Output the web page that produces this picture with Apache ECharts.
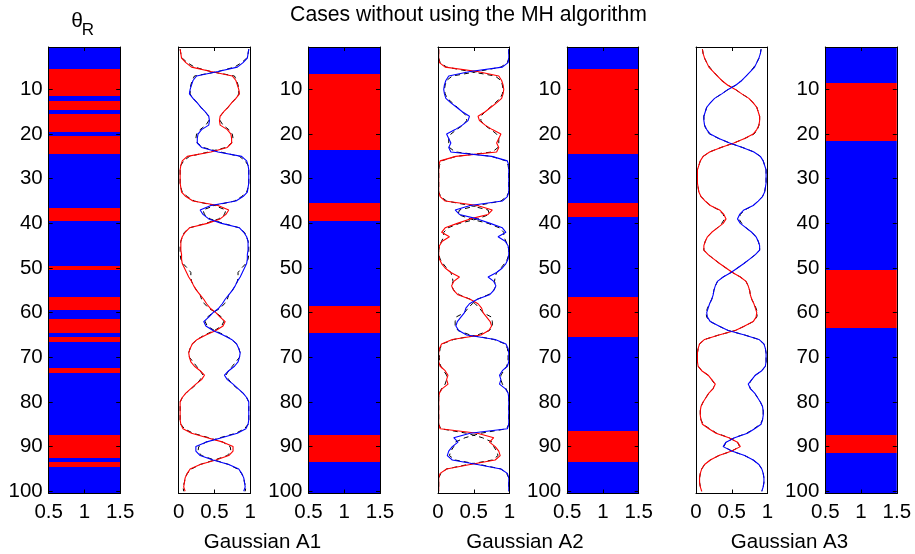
<!DOCTYPE html>
<html><head><meta charset="utf-8">
<script src="https://cdn.jsdelivr.net/npm/echarts@6/dist/echarts.min.js"></script>
<style>html,body{margin:0;padding:0;background:#fff}#c{width:915px;height:554px}</style>
</head><body><div id="c"></div>
<script>
// ---------- data ----------
const rowTicks = [10,20,30,40,50,60,70,80,90,100];
const xTicksImg = [0.5, 1, 1.5];
const xTicksLine = [0, 0.5, 1];
// image columns: runs [firstRow, lastRow, class] ; class 1 = red, 0 = blue
const imgThetaR = [[1,5,0],[6,11,1],[12,12,0],[13,14,1],[15,15,0],[16,19,1],[20,20,0],[21,24,1],[25,36,0],[37,39,1],[40,49,0],[50,50,1],[51,56,0],[57,59,1],[60,61,0],[62,64,1],[65,65,0],[66,66,1],[67,72,0],[73,73,1],[74,87,0],[88,92,1],[93,93,0],[94,94,1],[95,100,0]];
const imgA1 = [[1,6,0],[7,23,1],[24,35,0],[36,39,1],[40,58,0],[59,64,1],[65,87,0],[88,93,1],[94,100,0]];
const imgA2 = [[1,5,0],[6,24,1],[25,35,0],[36,38,1],[39,56,0],[57,65,1],[66,86,0],[87,93,1],[94,100,0]];
const imgA3 = [[1,8,0],[9,21,1],[22,50,0],[51,63,1],[64,87,0],[88,91,1],[92,100,0]];

// line panels: one value per row 1..100
const redA1 = [0.02,0.03,0.04,0.10,0.18,0.45,0.75,0.80,0.82,0.84, 0.85,0.80,0.74,0.69,0.63,0.58,0.57,0.58,0.68,0.73, 0.74,0.74,0.68,0.45,0.12,0.05,0.03,0.02,0.02,0.02, 0.02,0.03,0.04,0.10,0.20,0.55,0.70,0.66,0.58,0.40, 0.15,0.09,0.05,0.03,0.03,0.03,0.04,0.04,0.05,0.08, 0.11,0.14,0.18,0.21,0.25,0.30,0.35,0.39,0.44,0.52, 0.58,0.65,0.62,0.52,0.38,0.26,0.19,0.16,0.14,0.15, 0.17,0.22,0.30,0.36,0.32,0.24,0.17,0.10,0.05,0.02, 0.02,0.02,0.02,0.02,0.03,0.06,0.18,0.40,0.62,0.76, 0.76,0.70,0.52,0.30,0.16,0.12,0.09,0.08,0.07,0.09];
const blueA1 = [0.98,0.97,0.96,0.90,0.82,0.55,0.25,0.20,0.18,0.16, 0.15,0.20,0.26,0.31,0.37,0.42,0.43,0.42,0.32,0.27, 0.26,0.26,0.32,0.55,0.88,0.95,0.97,0.98,0.98,0.98, 0.98,0.97,0.96,0.90,0.80,0.45,0.30,0.34,0.42,0.60, 0.85,0.91,0.95,0.97,0.97,0.97,0.96,0.96,0.95,0.92, 0.89,0.86,0.82,0.79,0.75,0.70,0.65,0.61,0.56,0.48, 0.42,0.35,0.38,0.48,0.62,0.74,0.81,0.84,0.86,0.85, 0.83,0.78,0.70,0.64,0.68,0.76,0.83,0.90,0.95,0.98, 0.98,0.98,0.98,0.98,0.97,0.94,0.82,0.60,0.38,0.24, 0.24,0.30,0.48,0.70,0.84,0.88,0.91,0.92,0.93,0.91];
const blackA1r = [0.02,0.03,0.05,0.12,0.22,0.45,0.78,0.81,0.83,0.84, 0.84,0.80,0.74,0.69,0.63,0.58,0.58,0.62,0.70,0.75, 0.76,0.74,0.66,0.42,0.15,0.07,0.03,0.02,0.02,0.02, 0.02,0.03,0.05,0.12,0.22,0.50,0.66,0.64,0.56,0.38, 0.15,0.08,0.05,0.03,0.02,0.02,0.02,0.03,0.06,0.12, 0.17,0.17,0.18,0.21,0.25,0.30,0.32,0.36,0.42,0.52, 0.60,0.63,0.60,0.50,0.36,0.26,0.19,0.16,0.14,0.15, 0.20,0.25,0.30,0.34,0.30,0.25,0.18,0.10,0.05,0.02, 0.02,0.02,0.02,0.02,0.03,0.08,0.20,0.42,0.62,0.72, 0.73,0.68,0.50,0.30,0.18,0.12,0.09,0.08,0.06,0.07];
const blackA1b = [0.98,0.97,0.95,0.88,0.78,0.55,0.22,0.19,0.17,0.16, 0.16,0.20,0.26,0.31,0.37,0.42,0.42,0.38,0.30,0.25, 0.24,0.26,0.34,0.58,0.85,0.93,0.97,0.98,0.98,0.98, 0.98,0.97,0.95,0.88,0.78,0.50,0.34,0.36,0.44,0.62, 0.85,0.92,0.95,0.97,0.98,0.98,0.98,0.97,0.94,0.88, 0.83,0.83,0.82,0.79,0.75,0.70,0.68,0.64,0.58,0.48, 0.40,0.37,0.40,0.50,0.64,0.74,0.81,0.84,0.86,0.85, 0.80,0.75,0.70,0.66,0.70,0.75,0.82,0.90,0.95,0.98, 0.98,0.98,0.98,0.98,0.97,0.92,0.80,0.58,0.38,0.28, 0.27,0.32,0.50,0.70,0.82,0.88,0.91,0.92,0.94,0.93];

const redA2 = [0.01,0.01,0.01,0.02,0.10,0.55,0.85,0.89,0.91,0.92, 0.91,0.89,0.82,0.74,0.66,0.56,0.58,0.66,0.76,0.88, 0.85,0.82,0.85,0.82,0.25,0.03,0.01,0.01,0.01,0.01, 0.01,0.01,0.01,0.03,0.10,0.55,0.76,0.70,0.45,0.27, 0.10,0.05,0.16,0.06,0.02,0.01,0.01,0.02,0.05,0.10, 0.18,0.30,0.22,0.19,0.22,0.28,0.45,0.56,0.61,0.63, 0.68,0.73,0.75,0.71,0.60,0.20,0.05,0.02,0.01,0.01, 0.01,0.03,0.10,0.14,0.12,0.14,0.06,0.02,0.01,0.01, 0.01,0.01,0.01,0.01,0.01,0.03,0.55,0.78,0.72,0.80, 0.85,0.87,0.80,0.45,0.12,0.03,0.01,0.01,0.01,0.01];
const blueA2 = [0.99,0.99,0.99,0.98,0.90,0.45,0.15,0.11,0.09,0.08, 0.09,0.11,0.18,0.26,0.34,0.44,0.42,0.34,0.24,0.12, 0.15,0.18,0.15,0.18,0.75,0.97,0.99,0.99,0.99,0.99, 0.99,0.99,0.99,0.97,0.90,0.45,0.24,0.30,0.55,0.73, 0.90,0.95,0.84,0.94,0.98,0.99,0.99,0.98,0.95,0.90, 0.82,0.70,0.78,0.81,0.78,0.72,0.55,0.44,0.39,0.37, 0.32,0.27,0.25,0.29,0.40,0.80,0.95,0.98,0.99,0.99, 0.99,0.97,0.90,0.86,0.88,0.86,0.94,0.98,0.99,0.99, 0.99,0.99,0.99,0.99,0.99,0.97,0.45,0.22,0.28,0.20, 0.15,0.13,0.20,0.55,0.88,0.97,0.99,0.99,0.99,0.99];
const blackA2r = [0.01,0.01,0.01,0.03,0.12,0.45,0.80,0.88,0.90,0.91, 0.90,0.87,0.80,0.73,0.66,0.60,0.60,0.65,0.74,0.82, 0.85,0.85,0.84,0.76,0.25,0.05,0.02,0.01,0.01,0.01, 0.01,0.01,0.01,0.04,0.12,0.45,0.70,0.72,0.55,0.30, 0.14,0.08,0.08,0.05,0.02,0.01,0.01,0.03,0.07,0.12, 0.18,0.20,0.21,0.19,0.22,0.30,0.45,0.52,0.58,0.63, 0.75,0.76,0.76,0.72,0.55,0.22,0.06,0.03,0.02,0.02, 0.02,0.04,0.08,0.12,0.12,0.10,0.05,0.02,0.01,0.01, 0.01,0.01,0.01,0.01,0.01,0.04,0.40,0.62,0.76,0.78, 0.82,0.84,0.76,0.42,0.12,0.04,0.01,0.01,0.01,0.01];
const blackA2b = [0.99,0.99,0.99,0.97,0.88,0.55,0.20,0.12,0.10,0.09, 0.10,0.13,0.20,0.27,0.34,0.40,0.40,0.35,0.26,0.18, 0.15,0.15,0.16,0.24,0.75,0.95,0.98,0.99,0.99,0.99, 0.99,0.99,0.99,0.96,0.88,0.55,0.30,0.28,0.45,0.70, 0.86,0.92,0.92,0.95,0.98,0.99,0.99,0.97,0.93,0.88, 0.82,0.80,0.79,0.81,0.78,0.70,0.55,0.48,0.42,0.37, 0.25,0.24,0.24,0.28,0.45,0.78,0.94,0.97,0.98,0.98, 0.98,0.96,0.92,0.88,0.88,0.90,0.95,0.98,0.99,0.99, 0.99,0.99,0.99,0.99,0.99,0.96,0.60,0.38,0.24,0.22, 0.18,0.16,0.24,0.58,0.88,0.96,0.99,0.99,0.99,0.99];

const redA3 = [0.09,0.10,0.12,0.15,0.18,0.24,0.30,0.36,0.44,0.55, 0.64,0.74,0.80,0.85,0.87,0.89,0.89,0.88,0.85,0.80, 0.68,0.53,0.35,0.19,0.10,0.06,0.04,0.02,0.02,0.02, 0.02,0.03,0.04,0.07,0.13,0.20,0.33,0.39,0.42,0.38, 0.30,0.22,0.16,0.13,0.11,0.11,0.17,0.25,0.33,0.42, 0.51,0.62,0.70,0.73,0.75,0.76,0.78,0.81,0.83,0.85, 0.84,0.80,0.68,0.55,0.32,0.12,0.05,0.03,0.02,0.02, 0.02,0.03,0.08,0.17,0.22,0.27,0.24,0.18,0.14,0.10, 0.07,0.06,0.06,0.07,0.09,0.18,0.28,0.46,0.58,0.62, 0.50,0.32,0.20,0.12,0.08,0.06,0.05,0.05,0.06,0.08];
const blueA3 = [0.91,0.90,0.88,0.85,0.82,0.76,0.70,0.64,0.56,0.45, 0.36,0.26,0.20,0.15,0.13,0.11,0.11,0.12,0.15,0.20, 0.32,0.47,0.65,0.81,0.90,0.94,0.96,0.98,0.98,0.98, 0.98,0.97,0.96,0.93,0.87,0.80,0.67,0.61,0.58,0.62, 0.70,0.78,0.84,0.87,0.89,0.89,0.83,0.75,0.67,0.58, 0.49,0.38,0.30,0.27,0.25,0.24,0.22,0.19,0.17,0.15, 0.16,0.20,0.32,0.45,0.68,0.88,0.95,0.97,0.98,0.98, 0.98,0.97,0.92,0.83,0.78,0.73,0.76,0.82,0.86,0.90, 0.93,0.94,0.94,0.93,0.91,0.82,0.72,0.54,0.42,0.38, 0.50,0.68,0.80,0.88,0.92,0.94,0.95,0.95,0.94,0.92];
const blackA3r = [0.09,0.10,0.12,0.15,0.19,0.24,0.30,0.36,0.44,0.55, 0.64,0.74,0.80,0.85,0.87,0.89,0.89,0.88,0.86,0.81, 0.68,0.53,0.35,0.19,0.10,0.06,0.04,0.02,0.02,0.02, 0.02,0.03,0.04,0.07,0.13,0.20,0.32,0.38,0.40,0.36, 0.30,0.22,0.16,0.13,0.11,0.11,0.17,0.25,0.33,0.42, 0.51,0.62,0.70,0.73,0.75,0.76,0.78,0.81,0.84,0.86, 0.85,0.80,0.68,0.55,0.32,0.12,0.05,0.03,0.02,0.02, 0.02,0.03,0.08,0.17,0.22,0.26,0.24,0.18,0.14,0.10, 0.07,0.06,0.06,0.07,0.10,0.19,0.29,0.46,0.58,0.61, 0.50,0.32,0.20,0.12,0.08,0.06,0.05,0.05,0.06,0.08];
const blackA3b = [0.91,0.90,0.88,0.85,0.81,0.76,0.70,0.64,0.56,0.45, 0.36,0.26,0.20,0.15,0.13,0.11,0.11,0.12,0.14,0.19, 0.32,0.47,0.65,0.81,0.90,0.94,0.96,0.98,0.98,0.98, 0.98,0.97,0.96,0.93,0.87,0.80,0.68,0.62,0.60,0.64, 0.70,0.78,0.84,0.87,0.89,0.89,0.83,0.75,0.67,0.58, 0.49,0.38,0.30,0.27,0.25,0.24,0.22,0.19,0.16,0.14, 0.15,0.20,0.32,0.45,0.68,0.88,0.95,0.97,0.98,0.98, 0.98,0.97,0.92,0.83,0.78,0.74,0.76,0.82,0.86,0.90, 0.93,0.94,0.94,0.93,0.90,0.81,0.71,0.54,0.42,0.39, 0.50,0.68,0.80,0.88,0.92,0.94,0.95,0.95,0.94,0.92];

const titleText = 'Cases without using the MH algorithm';
const xLabels = ['Gaussian A1', 'Gaussian A2', 'Gaussian A3'];

// ---------- layout / style ----------
const FONT = '"Liberation Sans", Arial, Helvetica, sans-serif';
const FS = 20.5;
const lefts = [48.7, 178.7, 308.5, 438, 567.2, 696, 825.3];
const W = 71.5, TOP = 47, H = 446.5;
const kinds = ['img','line','img','line','img','line','img'];
const imgData = {0: imgThetaR, 2: imgA1, 4: imgA2, 6: imgA3};
const lineData = {1: [blackA1r, blackA1b, redA1, blueA1], 3: [blackA2r, blackA2b, redA2, blueA2], 5: [blackA3r, blackA3b, redA3, blueA3]};
const RED = '#ff0000', BLUE = '#0000ff';

const rows = [];
for (let r = 1; r <= 100; r++) rows.push(r);

const grids = [], xAxes = [], yAxes = [], series = [];
lefts.forEach((l, i) => {
  const isImg = kinds[i] === 'img';
  grids.push({left: l, top: TOP, width: W, height: H, show: false});
  const xmin = isImg ? 0.5 : 0, xmax = isImg ? 1.5 : 1;
  const baseX = {gridIndex: i, type: 'value', min: xmin, max: xmax, interval: 0.5, z: 5,
    axisLine: {show: true, onZero: false, lineStyle: {color: '#000', width: 1}},
    axisTick: {show: true, inside: true, length: 4, lineStyle: {color: '#000', width: 1}},
    splitLine: {show: false}};
  xAxes.push(Object.assign({}, baseX, {position: 'bottom',
    axisLabel: {show: true, color: '#000', fontSize: FS, fontFamily: FONT, margin: 8,
      showMinLabel: true, showMaxLabel: true, customValues: isImg ? xTicksImg : xTicksLine,
      formatter: v => String(v)}}));
  xAxes.push(Object.assign({}, baseX, {position: 'top', axisLabel: {show: false}}));
  const baseY = {gridIndex: i, type: 'value', inverse: true, min: 0.5, max: 100.5, z: 5,
    axisLine: {show: true, onZero: false, lineStyle: {color: '#000', width: 1}},
    axisTick: {show: isImg, inside: true, length: 4, customValues: rowTicks, lineStyle: {color: '#000', width: 1}},
    splitLine: {show: false}};
  yAxes.push(Object.assign({}, baseY, {position: 'left',
    axisLabel: {show: isImg, color: '#000', fontSize: FS, fontFamily: FONT, margin: 6, customValues: rowTicks}}));
  yAxes.push(Object.assign({}, baseY, {position: 'right', axisLabel: {show: false}}));

  if (isImg) {
    series.push({type: 'custom', xAxisIndex: 2*i, yAxisIndex: 2*i, z: 1, silent: true,
      data: imgData[i],
      encode: {x: -1, y: [0, 1]},
      renderItem: (params, api) => {
        const s = api.value(0), e = api.value(1), c = api.value(2);
        const p1 = api.coord([0.5, s - 0.5]);
        const p2 = api.coord([1.5, e + 0.5]);
        const y1 = Math.round(Math.min(p1[1], p2[1]));
        const y2 = Math.round(Math.max(p1[1], p2[1]));
        return {type: 'rect',
          shape: {x: p1[0], y: y1, width: p2[0] - p1[0], height: y2 - y1},
          style: {fill: c ? RED : BLUE}};
      }});
  } else {
    const [br, bb, rr, bl] = lineData[i];
    const mk = (arr) => arr.map((v, k) => [v, rows[k]]);
    [br, bb].forEach(arr => series.push({type: 'line', xAxisIndex: 2*i, yAxisIndex: 2*i, z: 2, silent: true,
      data: mk(arr), symbol: 'none', lineStyle: {color: '#000', width: 1, type: [5, 4]}}));
    series.push({type: 'line', xAxisIndex: 2*i, yAxisIndex: 2*i, z: 3, silent: true,
      data: mk(rr), symbol: 'none', lineStyle: {color: RED, width: 1.1}});
    series.push({type: 'line', xAxisIndex: 2*i, yAxisIndex: 2*i, z: 3, silent: true,
      data: mk(bl), symbol: 'none', lineStyle: {color: BLUE, width: 1.1}});
  }
});

const txt = (x, y, text, size, align) => ({type: 'text', x: x, y: y, silent: true,
  style: {text: text, fill: '#000', font: size + 'px ' + FONT, textAlign: align || 'center', textVerticalAlign: 'middle'}});

const chart = echarts.init(document.getElementById('c'), null, {renderer: 'canvas'});
chart.setOption({
  animation: false,
  backgroundColor: '#fff',
  grid: grids, xAxis: xAxes, yAxis: yAxes, series: series,
  graphic: [
    txt(468.5, 15, titleText, 21.2),
    txt(77, 21, 'θ', 21),
    txt(88, 30, 'R', 17),
    txt(262.5, 542, xLabels[0], FS),
    txt(525, 542, xLabels[1], FS),
    txt(789.5, 542, xLabels[2], FS)
  ]
});
</script>
</body></html>
